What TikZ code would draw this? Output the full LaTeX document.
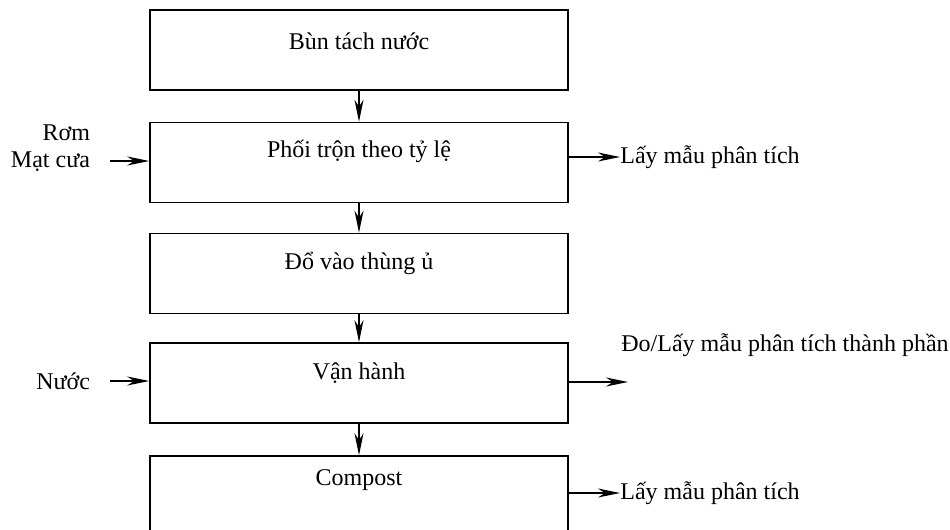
\documentclass[tikz,border=0pt]{standalone}
\usepackage{fontspec}
\setmainfont{Liberation Serif}
\usetikzlibrary{arrows.meta}

\tikzset{
	txt/.style={font=\fontsize{12pt}{13.5pt}\selectfont},
	box/.style={txt,draw,line width=0.8pt,minimum width=209pt,minimum height=40pt,inner ysep=0pt,text height=#1,text depth=40pt-#1},
	box/.default=18pt,
	flow/.style={line width=0.8pt,-{Stealth[length=11pt,width=4.5pt,inset=3.5pt]}}
}

\begin{document}
\begin{tikzpicture}[x=0.5pt,y=-0.5pt]
	\useasboundingbox (0,0) rectangle (950,530);
	\clip (0,0) rectangle (950,530);

	%BOXES
	\node[box=19.5pt] (bun)  at (359,50)    {Bùn tách nước};
	\node[box=17.5pt] (phoi) at (359,162.5) {Phối trộn theo tỷ lệ};
	\node[box]        (do)   at (359,273.5) {Đổ vào thùng ủ};
	\node[box]        (van)  at (359,383)   {Vận hành};
	\node[box=14.5pt] (comp) at (359,496)   {Compost};

	%DOWN ARROWS
	\draw[flow] (bun) -- (phoi);
	\draw[flow] (phoi) -- (do);
	\draw[flow] (do) -- (van);
	\draw[flow] (van) -- (comp);

	%INPUTS
	\node[txt,align=right,anchor=east] (rom) at (97,148) {Rơm\\Mạt cưa};
	\coordinate (romin) at (110,161);
	\draw[flow] (romin) -- (romin -| phoi.west);
	%
	\node[txt,anchor=east] (nuoc) at (97,381) {Nước};
	\coordinate (nuocin) at (110,381);
	\draw[flow] (nuocin) -- (nuocin -| van.west);

	%OUTPUTS
	\node[txt,anchor=west,inner sep=0pt] (mau1) at (620,157) {Lấy mẫu phân tích};
	\draw[flow] (phoi.east |- mau1) -- (mau1.west);
	%
	\node[txt,anchor=west,inner sep=0pt] (domau) at (621,345) {Đo/Lấy mẫu phân tích thành phần};
	\coordinate (vanout) at (628,382);
	\draw[flow] (van.east |- vanout) -- (vanout);
	%
	\node[txt,anchor=west,inner sep=0pt] (mau2) at (620,493) {Lấy mẫu phân tích};
	\draw[flow] (comp.east |- mau2) -- (mau2.west);
\end{tikzpicture}
\end{document}
